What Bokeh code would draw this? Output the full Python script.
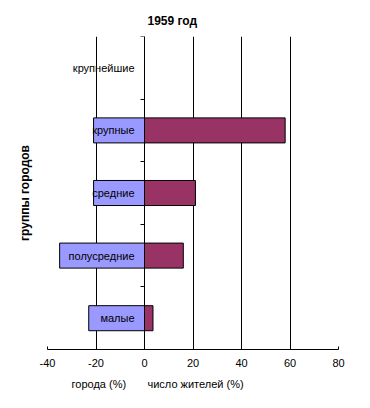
import numpy as np
from bokeh.plotting import figure
from bokeh.models import ColumnDataSource, FixedTicker, Range1d, Title
from bokeh.core.properties import value
from bokeh.embed import file_html
from bokeh.resources import INLINE

categories = ["крупнейшие", "крупные", "средние", "полусредние", "малые"]
cities_pct = [0, 21, 21, 35, 23]          # города (%) -> drawn to the left
population_pct = [0, 58, 21, 16, 3.5]    # число жителей (%) -> drawn to the right
x_ticks = [-40, -20, 0, 20, 40, 60, 80]
x_tick_labels = ["-40", "-20", "0", "20", "40", "60", "80"]
grid_ticks = [-20, 0, 20, 40, 60]

n = len(categories)
ypos = [n - i - 0.5 for i in range(n)]
src = ColumnDataSource(dict(
    y=ypos,
    cat=categories,
    left_neg=[-v for v in cities_pct],
    zero=[0] * n,
    pop=population_pct,
))

FONT = "Liberation Sans"

p = figure(width=362, height=400, output_backend="svg", toolbar_location=None,
           x_range=Range1d(-40, 80), y_range=Range1d(0, n),
           min_border_left=47, min_border_right=24, min_border_top=36, min_border_bottom=51,
           y_axis_location="left")
p.outline_line_color = None
p.background_fill_color = "white"
p.border_fill_color = "white"

# grid
p.xgrid.ticker = FixedTicker(ticks=grid_ticks)
p.xgrid.grid_line_color = "black"
p.xgrid.grid_line_width = 1
p.ygrid.visible = False

# bars
p.hbar(y="y", left="left_neg", right="zero", height=0.4, source=src,
       fill_color="#9999FF", line_color="black", line_width=1)
p.hbar(y="y", left="zero", right="pop", height=0.4, source=src,
       fill_color="#993366", line_color="black", line_width=1)

# category labels next to the zero axis
p.text(x="zero", y="y", text="cat", source=src, x_offset=-10,
       text_align="right", text_baseline="middle",
       text_font=value(FONT), text_font_size="11px", text_color="black")

# x axis
xa = p.xaxis[0]
xa.ticker = FixedTicker(ticks=x_ticks)
xa.major_label_overrides = {t: s for t, s in zip(x_ticks, x_tick_labels)}
xa.axis_line_color = "black"
xa.major_tick_in = 3
xa.major_tick_out = 0
xa.minor_tick_line_color = None
xa.major_tick_line_color = "black"
xa.major_label_text_font = FONT
xa.major_label_text_font_size = "11px"
xa.major_label_text_color = "black"
xa.major_label_standoff = 9

# y axis at x = 0 with (minor) ticks at category boundaries, no labels
ya = p.yaxis[0]
ya.fixed_location = 0
ya.ticker = FixedTicker(ticks=[], minor_ticks=list(range(n + 1)))
ya.minor_tick_out = 4
ya.minor_tick_in = 0
ya.minor_tick_line_color = "black"
ya.major_tick_line_color = None
ya.axis_line_color = "black"

# titles
t = Title(text="1959 год", align="left", offset=100, standoff=18, text_font=FONT,
          text_font_size="12px", text_font_style="bold", text_color="black")
p.add_layout(t, "above")

yl = Title(text="группы городов", align="center", standoff=31, text_font=FONT,
           text_font_size="12px", text_font_style="bold", text_color="black")
p.add_layout(yl, "left")

xl = Title(text="города (%)" + "\u00a0" * 7 + "число жителей (%)", align="left", offset=24,
           standoff=13, text_font=FONT, text_font_size="11px", text_font_style="normal",
           text_color="black")
p.add_layout(xl, "below")

open("out.html", "w").write(file_html(p, INLINE))
